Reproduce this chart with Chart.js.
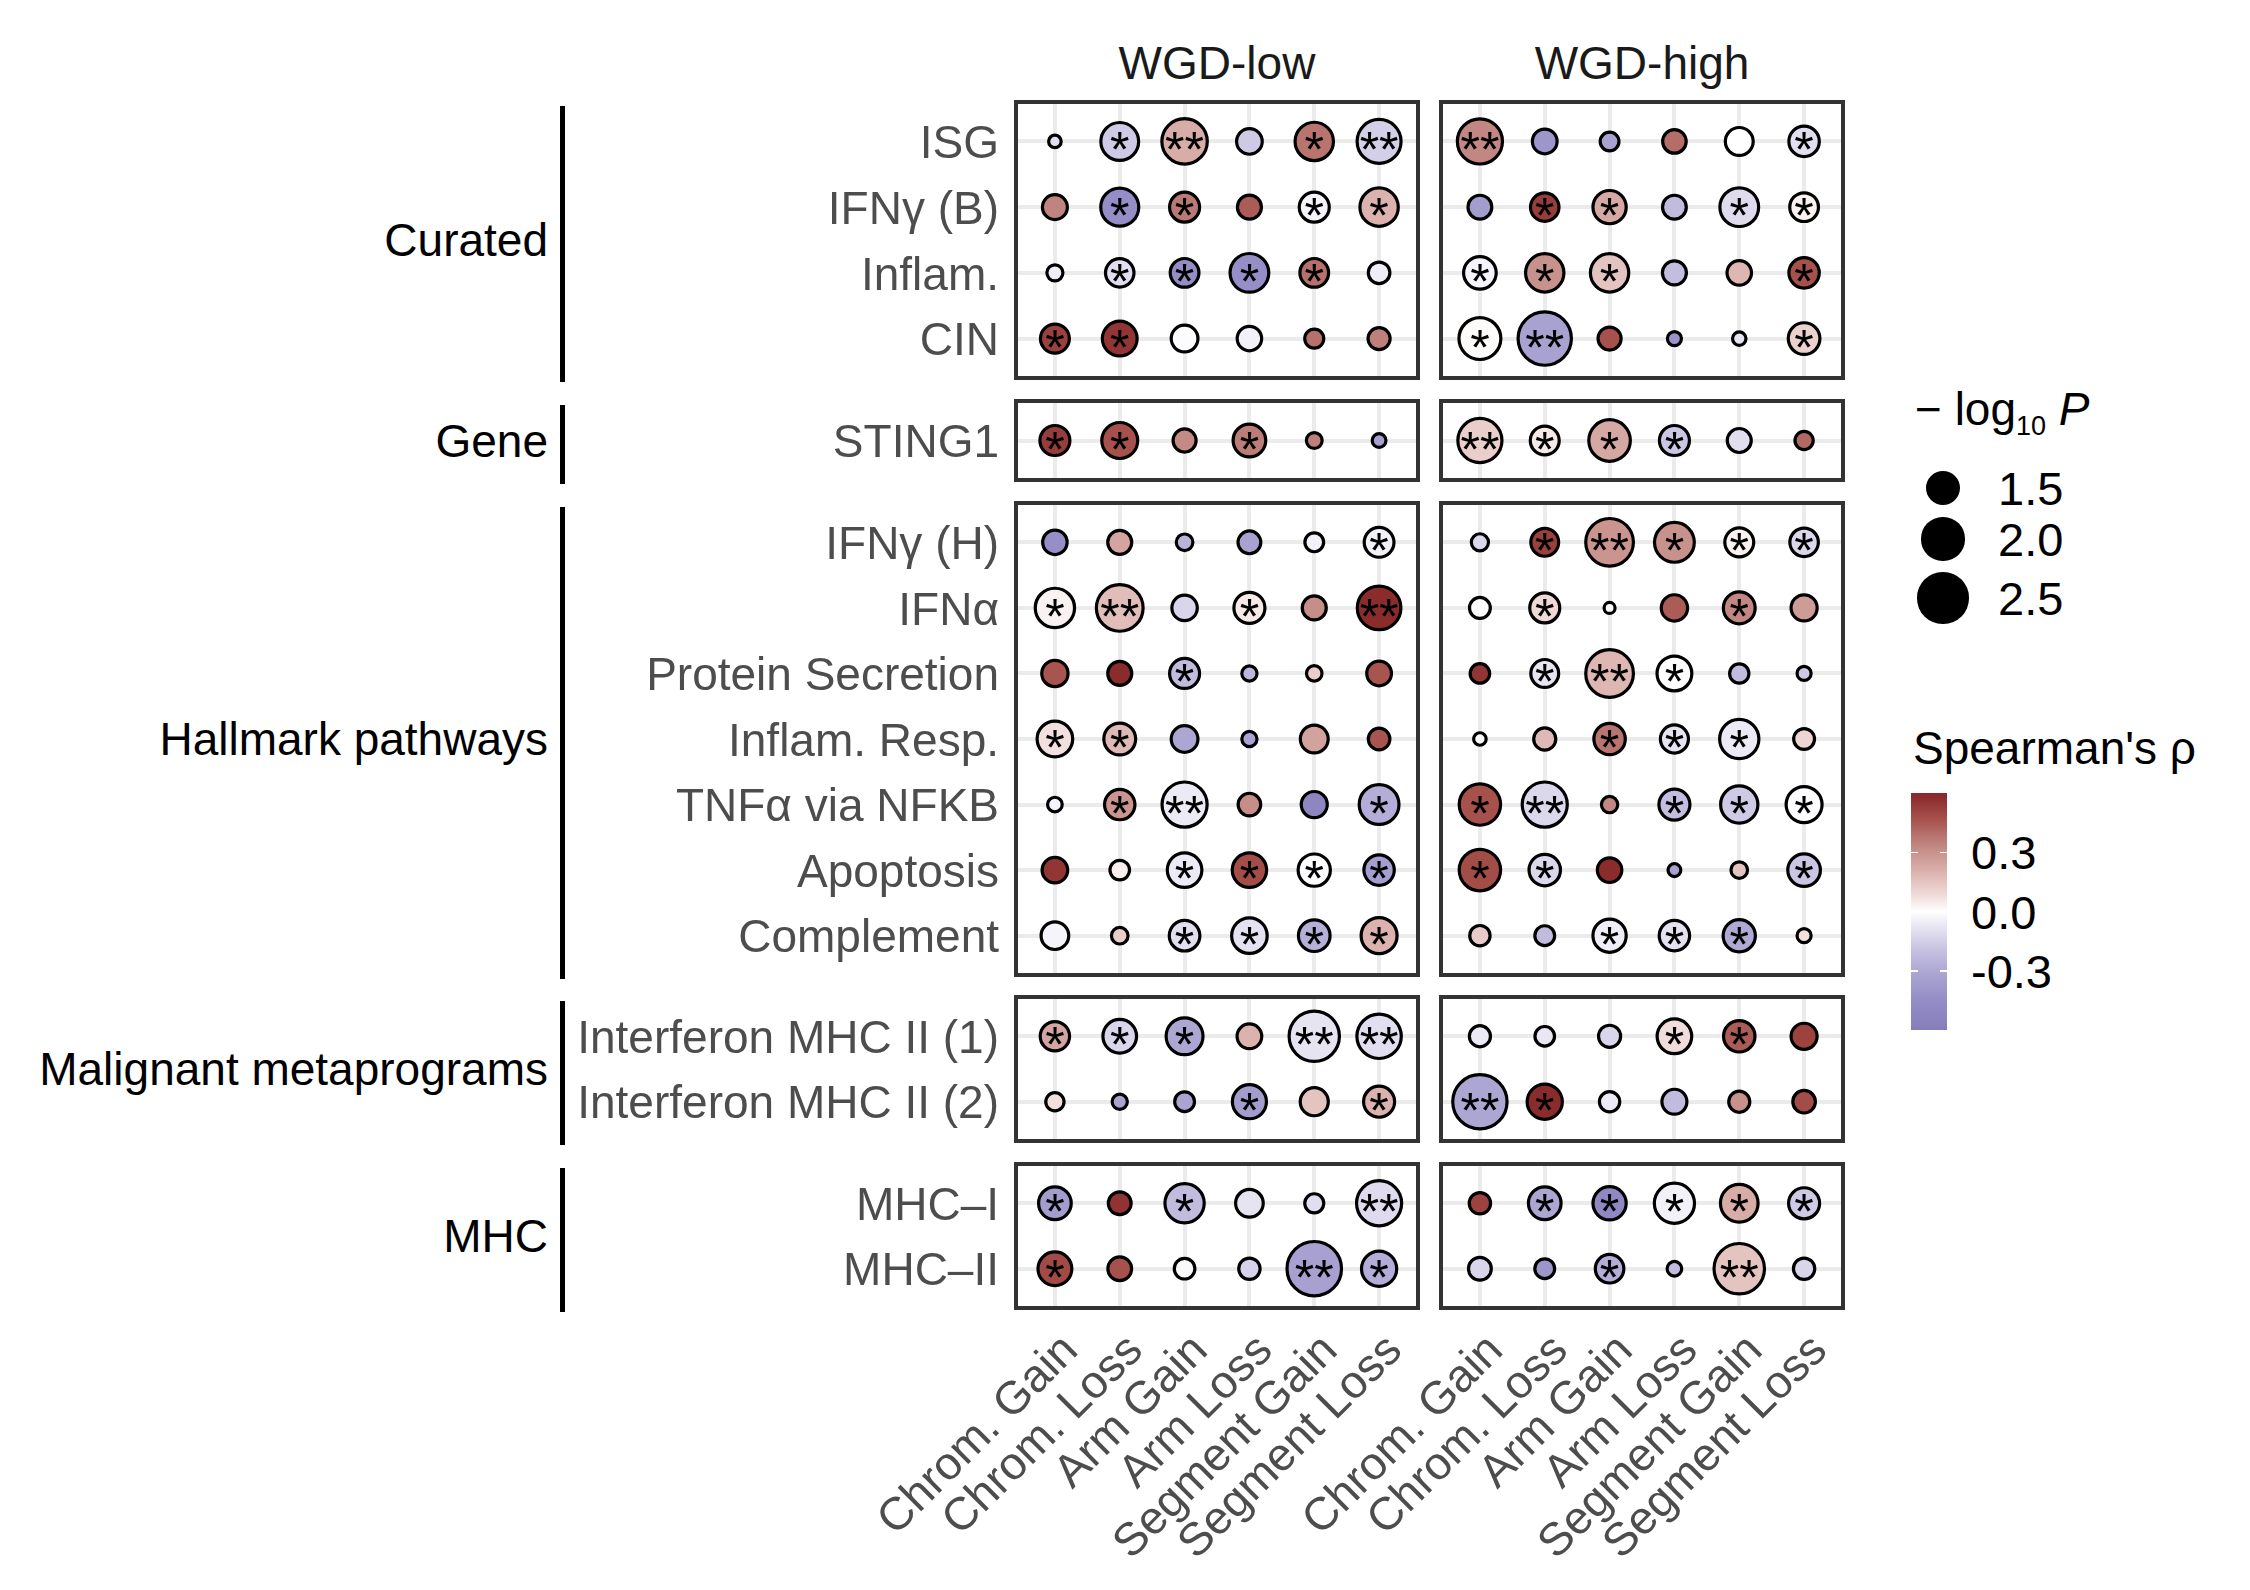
<!DOCTYPE html>
<html>
<head>
<meta charset="utf-8">
<title>CNA vs immune signatures, WGD-low / WGD-high</title>
<script src="https://cdn.jsdelivr.net/npm/chart.js@4.4.1/dist/chart.umd.min.js"></script>
<style>
  html, body { margin: 0; padding: 0; background: #fff; }
  #page { position: relative; width: 2250px; height: 1590px; overflow: hidden;
          font-family: "Liberation Sans", Arial, sans-serif; }
  #page canvas { position: absolute; }
  .txt { position: absolute; white-space: nowrap; font-size: 46px; line-height: 46px; }
</style>
</head>
<body>
<div id="page"></div>
<script>
// event types on the x axis
const columns = ["Chrom. Gain", "Chrom. Loss", "Arm Gain", "Arm Loss", "Segment Gain", "Segment Loss"];

// signatures, top to bottom, and the facet groups they belong to
const rowLabels = [
  "ISG", "IFNγ (B)", "Inflam.", "CIN",
  "STING1",
  "IFNγ (H)", "IFNα", "Protein Secretion", "Inflam. Resp.", "TNFα via NFKB", "Apoptosis", "Complement",
  "Interferon MHC II (1)", "Interferon MHC II (2)",
  "MHC–I", "MHC–II"
];
const groupNames = ["Curated", "Gene", "Hallmark pathways", "Malignant metaprograms", "MHC"];
const groupSizes = [4, 1, 7, 2, 2];
const wgdLevels = ["WGD-low", "WGD-high"];

// Spearman's rho (fill), one row per signature
const rhoLow = [
  [-0.10, -0.17, 0.22, -0.17, 0.38, -0.15],
  [0.34, -0.45, 0.37, 0.44, -0.03, 0.20],
  [-0.05, -0.10, -0.45, -0.44, 0.39, -0.05],
  [0.52, 0.55, -0.01, -0.04, 0.39, 0.35],
  [0.53, 0.47, 0.32, 0.36, 0.35, -0.34],
  [-0.44, 0.24, -0.25, -0.33, -0.04, -0.04],
  [0.03, 0.17, -0.13, 0.05, 0.31, 0.58],
  [0.46, 0.58, -0.22, -0.24, 0.12, 0.46],
  [0.07, 0.18, -0.31, -0.32, 0.25, 0.46],
  [-0.03, 0.29, -0.06, 0.31, -0.52, -0.28],
  [0.55, 0.04, -0.06, 0.48, -0.01, -0.35],
  [-0.03, 0.12, -0.10, -0.09, -0.27, 0.20],
  [0.24, -0.13, -0.31, 0.20, -0.08, -0.10],
  [0.07, -0.32, -0.32, -0.36, 0.15, 0.20],
  [-0.36, 0.56, -0.22, -0.08, -0.10, -0.11],
  [0.49, 0.47, -0.02, -0.14, -0.34, -0.28]
];
const rhoHigh = [
  [0.33, -0.40, -0.33, 0.40, 0.00, -0.10],
  [-0.36, 0.53, 0.23, -0.22, -0.11, 0.03],
  [-0.03, 0.30, 0.15, -0.21, 0.19, 0.47],
  [0.01, -0.33, 0.47, -0.41, -0.08, 0.11],
  [0.12, 0.05, 0.23, -0.18, -0.10, 0.41],
  [-0.12, 0.52, 0.29, 0.30, 0.03, -0.12],
  [0.00, 0.09, 0.01, 0.44, 0.33, 0.27],
  [0.55, -0.08, 0.19, 0.00, -0.22, -0.17],
  [-0.01, 0.18, 0.38, -0.08, -0.06, 0.10],
  [0.47, -0.12, 0.33, -0.21, -0.17, -0.01],
  [0.48, -0.12, 0.58, -0.34, 0.15, -0.18],
  [0.13, -0.22, -0.05, -0.09, -0.30, 0.07],
  [-0.06, -0.07, -0.13, 0.08, 0.44, 0.51],
  [-0.31, 0.58, -0.06, -0.22, 0.30, 0.48],
  [0.51, -0.31, -0.50, -0.04, 0.22, -0.17],
  [-0.13, -0.40, -0.28, -0.22, 0.15, -0.13]
];

// -log10 P (point size)
const logpLow = [
  [0.60, 1.70, 2.14, 1.10, 1.73, 2.05],
  [1.07, 1.71, 1.30, 1.03, 1.30, 1.73],
  [0.72, 1.23, 1.24, 1.75, 1.24, 0.93],
  [1.25, 1.54, 1.15, 1.05, 0.83, 0.95],
  [1.30, 1.60, 0.99, 1.43, 0.71, 0.64],
  [1.05, 1.03, 0.74, 0.98, 0.82, 1.29],
  [1.78, 2.22, 1.09, 1.35, 1.03, 2.03],
  [1.13, 1.03, 1.30, 0.69, 0.70, 1.06],
  [1.58, 1.39, 1.15, 0.69, 1.20, 0.93],
  [0.67, 1.32, 2.12, 0.97, 1.12, 1.81],
  [1.10, 0.85, 1.53, 1.52, 1.41, 1.32],
  [1.19, 0.74, 1.33, 1.58, 1.38, 1.60],
  [1.27, 1.48, 1.65, 1.06, 2.45, 2.08],
  [0.80, 0.69, 0.86, 1.50, 1.21, 1.35],
  [1.43, 0.98, 1.78, 1.19, 0.83, 2.12],
  [1.49, 1.02, 0.89, 0.92, 2.73, 1.56]
];
const logpHigh = [
  [2.12, 1.06, 0.82, 1.01, 1.20, 1.32],
  [1.02, 1.23, 1.46, 1.02, 1.75, 1.24],
  [1.43, 1.73, 1.73, 1.03, 1.05, 1.32],
  [1.93, 2.65, 0.99, 0.65, 0.63, 1.38],
  [2.06, 1.25, 1.91, 1.30, 1.03, 0.80],
  [0.76, 1.20, 2.28, 1.81, 1.25, 1.23],
  [0.90, 1.30, 0.55, 1.13, 1.39, 1.12],
  [0.85, 1.20, 2.28, 1.54, 0.84, 0.65],
  [0.60, 0.95, 1.37, 1.21, 1.78, 0.90],
  [1.90, 2.12, 0.73, 1.35, 1.67, 1.60],
  [1.90, 1.37, 1.05, 0.61, 0.74, 1.43],
  [0.88, 0.86, 1.46, 1.32, 1.41, 0.65],
  [0.91, 0.85, 0.95, 1.53, 1.37, 1.12],
  [2.72, 1.56, 0.88, 1.07, 0.91, 0.97],
  [0.92, 1.43, 1.46, 1.83, 1.69, 1.35],
  [0.98, 0.86, 1.23, 0.67, 2.46, 0.92]
];

// number of asterisks drawn on each point
const sigLow = [
  [0, 1, 2, 0, 1, 2],
  [0, 1, 1, 0, 1, 1],
  [0, 1, 1, 1, 1, 0],
  [1, 1, 0, 0, 0, 0],
  [1, 1, 0, 1, 0, 0],
  [0, 0, 0, 0, 0, 1],
  [1, 2, 0, 1, 0, 2],
  [0, 0, 1, 0, 0, 0],
  [1, 1, 0, 0, 0, 0],
  [0, 1, 2, 0, 0, 1],
  [0, 0, 1, 1, 1, 1],
  [0, 0, 1, 1, 1, 1],
  [1, 1, 1, 0, 2, 2],
  [0, 0, 0, 1, 0, 1],
  [1, 0, 1, 0, 0, 2],
  [1, 0, 0, 0, 2, 1]
];
const sigHigh = [
  [2, 0, 0, 0, 0, 1],
  [0, 1, 1, 0, 1, 1],
  [1, 1, 1, 0, 0, 1],
  [1, 2, 0, 0, 0, 1],
  [2, 1, 1, 1, 0, 0],
  [0, 1, 2, 1, 1, 1],
  [0, 1, 0, 0, 1, 0],
  [0, 1, 2, 1, 0, 0],
  [0, 0, 1, 1, 1, 0],
  [1, 2, 0, 1, 1, 1],
  [1, 1, 0, 0, 0, 1],
  [0, 0, 1, 1, 1, 0],
  [0, 0, 0, 1, 1, 0],
  [2, 1, 0, 0, 0, 0],
  [0, 1, 1, 1, 1, 1],
  [0, 0, 1, 0, 2, 0]
];

const sizeBreaks = [1.5, 2.0, 2.5];
const rhoBreaks = [0.3, 0.0, -0.3];

// fill scale: purple - white - dark red over [-0.6, 0.6]
const colourStops = [
  [-0.6, [133, 126, 186]],
  [-0.45, [148, 141, 198]],
  [-0.32, [170, 164, 210]],
  [-0.2, [197, 192, 224]],
  [-0.12, [220, 216, 236]],
  [-0.05, [239, 237, 246]],
  [0, [255, 255, 255]],
  [0.08, [240, 220, 218]],
  [0.2, [220, 178, 174]],
  [0.3, [200, 146, 140]],
  [0.38, [184, 117, 112]],
  [0.46, [168, 84, 79]],
  [0.58, [139, 44, 44]],
  [0.6, [136, 40, 40]]
];
const RHO_MIN = -0.6, RHO_MAX = 0.6;

function rhoColour(v) {
  v = Math.max(RHO_MIN, Math.min(RHO_MAX, v));
  for (let i = 1; i < colourStops.length; i++) {
    const [v1, c1] = colourStops[i];
    if (v <= v1) {
      const [v0, c0] = colourStops[i - 1];
      const t = (v - v0) / (v1 - v0);
      return "rgb(" + c0.map((c, k) => Math.round(c + (c1[k] - c) * t)).join(",") + ")";
    }
  }
  return "rgb(" + colourStops[colourStops.length - 1][1].join(",") + ")";
}

// point diameter grows with sqrt(-log10 P); returns a radius in px
function sizeScale(v) {
  return (47.8 * Math.sqrt(v) - 24.5) / 2;
}

// layout (px)
const FONT = '"Liberation Sans", Arial, sans-serif';
const UNIT = 65.6;          // one row / one column step
const PANEL_W = 402;
const PANEL_X = [1016, 1441];
const TOP0 = 102;
const GAP = 22.8;
const YW = 470;             // room left of each panel for row labels
const XH = 290;             // room under the bottom panels for column labels
const PAD = 6;

Chart.defaults.font.family = FONT;

const page = document.getElementById("page");

const panelTops = [];
const panelHeights = [];
{
  let y = TOP0;
  groupSizes.forEach((n) => {
    const h = Math.round((n + 0.2) * UNIT);
    panelTops.push(Math.round(y));
    panelHeights.push(h);
    y += h + GAP;
  });
}

function addText(html, x, y, opts) {
  const d = document.createElement("div");
  d.className = "txt";
  d.innerHTML = html;
  const o = opts || {};
  if (o.size) { d.style.fontSize = o.size + "px"; d.style.lineHeight = o.size + "px"; }
  d.style.color = o.color || "#000";
  d.style.top = y + "px";
  if (o.align === "right") {
    d.style.right = (2250 - x) + "px";
  } else if (o.align === "center") {
    d.style.left = x + "px";
    d.style.transform = "translateX(-50%)";
  } else {
    d.style.left = x + "px";
  }
  page.appendChild(d);
  return d;
}

function addBox(x, y, w, h, css) {
  const d = document.createElement("div");
  d.style.position = "absolute";
  d.style.left = x + "px";
  d.style.top = y + "px";
  d.style.width = w + "px";
  d.style.height = h + "px";
  Object.assign(d.style, css || {});
  page.appendChild(d);
  return d;
}

const panelBorder = {
  id: "panelBorder",
  afterDatasetsDraw(chart) {
    const a = chart.chartArea;
    const ctx = chart.ctx;
    ctx.save();
    ctx.strokeStyle = "#333333";
    ctx.lineWidth = 4;
    ctx.strokeRect(a.left, a.top, a.right - a.left, a.bottom - a.top);
    ctx.restore();
  }
};

const starLabels = {
  id: "starLabels",
  afterDatasetsDraw(chart) {
    const ctx = chart.ctx;
    const pts = chart.data.datasets[0].data;
    ctx.save();
    ctx.font = "50px " + FONT;
    ctx.fillStyle = "#000";
    ctx.textAlign = "center";
    ctx.textBaseline = "alphabetic";
    const m = ctx.measureText("*");
    const shift = (m.actualBoundingBoxAscent - m.actualBoundingBoxDescent) / 2;
    chart.getDatasetMeta(0).data.forEach((el, i) => {
      const s = pts[i].sig;
      if (s) ctx.fillText("*".repeat(s), el.x, el.y + shift);
    });
    ctx.restore();
  }
};

function makePanel(side, g) {
  const first = groupSizes.slice(0, g).reduce((a, b) => a + b, 0);
  const n = groupSizes[g];
  const labels = rowLabels.slice(first, first + n);
  const isBottom = g === groupSizes.length - 1;
  const isLeft = side === 0;
  const rho = isLeft ? rhoLow : rhoHigh;
  const logp = isLeft ? logpLow : logpHigh;
  const sig = isLeft ? sigLow : sigHigh;

  const points = [];
  labels.forEach((_, r) => {
    columns.forEach((_, c) => {
      points.push({
        x: c,
        y: r,
        r: sizeScale(logp[first + r][c]),
        rho: rho[first + r][c],
        sig: sig[first + r][c]
      });
    });
  });

  const w = YW + PANEL_W + PAD;
  const h = PAD + panelHeights[g] + (isBottom ? XH : PAD);
  const canvas = document.createElement("canvas");
  canvas.width = w;
  canvas.height = h;
  canvas.style.width = w + "px";
  canvas.style.height = h + "px";
  canvas.style.left = (PANEL_X[side] - YW) + "px";
  canvas.style.top = (panelTops[g] - PAD) + "px";
  page.appendChild(canvas);

  const gridOpts = { color: "#ebebeb", lineWidth: 4, drawTicks: false };

  new Chart(canvas, {
    type: "bubble",
    data: {
      datasets: [{
        data: points,
        backgroundColor: points.map((p) => rhoColour(p.rho)),
        borderColor: "#000000",
        borderWidth: 3.2,
        hoverRadius: 0,
        hoverBorderWidth: 3.2
      }]
    },
    options: {
      responsive: false,
      devicePixelRatio: 1,
      animation: false,
      events: [],
      layout: {
        autoPadding: false,
        padding: { left: 0, top: PAD, right: PAD, bottom: isBottom ? 0 : PAD }
      },
      plugins: { legend: { display: false }, tooltip: { enabled: false } },
      scales: {
        x: {
          type: "linear",
          position: "bottom",
          min: -0.6,
          max: columns.length - 0.4,
          afterBuildTicks: (axis) => { axis.ticks = columns.map((_, i) => ({ value: i })); },
          afterFit: (axis) => {
            axis.height = isBottom ? XH : 0;
            axis.paddingLeft = 0;
            axis.paddingRight = 0;
          },
          grid: gridOpts,
          border: { display: false },
          ticks: {
            display: isBottom,
            autoSkip: false,
            minRotation: 45,
            maxRotation: 45,
            padding: 16,
            labelOffset: 16,
            color: "#4d4d4d",
            font: { size: 46 },
            callback: (v) => columns[v]
          }
        },
        y: {
          type: "linear",
          reverse: true,
          min: -0.6,
          max: n - 0.4,
          afterBuildTicks: (axis) => { axis.ticks = labels.map((_, i) => ({ value: i })); },
          afterFit: (axis) => {
            axis.width = YW;
            axis.paddingTop = 0;
            axis.paddingBottom = 0;
          },
          grid: gridOpts,
          border: { display: false },
          ticks: {
            display: isLeft,
            autoSkip: false,
            padding: 17,
            labelOffset: 4,
            color: "#4d4d4d",
            font: { size: 46 },
            callback: (v) => labels[v]
          }
        }
      }
    },
    plugins: [panelBorder, starLabels]
  });
}

// facet strips on top
wgdLevels.forEach((name, s) => {
  addText(name, PANEL_X[s] + PANEL_W / 2, 40, { align: "center", color: "#1a1a1a" });
});

// group labels with a bar on their right
groupNames.forEach((name, g) => {
  const top = panelTops[g];
  const h = panelHeights[g];
  addText(name, 548, top + h / 2 - 23, { align: "right", color: "#000" });
  addBox(560, top + 4, 5, h, { background: "#000" });
});

for (let g = 0; g < groupSizes.length; g++) {
  makePanel(0, g);
  makePanel(1, g);
}

// size legend
addText('−&nbsp;log<span style="font-size:27px;position:relative;top:10px">10</span>&nbsp;<i>P</i>', 1915, 386, { color: "#000" });
const keyY = [488, 539, 598];
sizeBreaks.forEach((v, i) => {
  const d = 2 * sizeScale(v);
  addBox(1943 - d / 2, keyY[i] - d / 2, d, d, { background: "#000", borderRadius: "50%" });
  addText(v.toFixed(1), 1998, keyY[i] - 23, { size: 47, color: "#000" });
});

// colour bar legend
addText("Spearman's ρ", 1913, 725, { color: "#000" });
const BAR_X = 1911, BAR_Y = 793, BAR_W = 36, BAR_H = 237;
const grad = colourStops.map(([v, c]) =>
  "rgb(" + c.join(",") + ") " + ((v - RHO_MIN) / (RHO_MAX - RHO_MIN) * 100).toFixed(2) + "%").join(", ");
addBox(BAR_X, BAR_Y, BAR_W, BAR_H, { background: "linear-gradient(to top, " + grad + ")" });
rhoBreaks.forEach((v) => {
  const y = BAR_Y + (RHO_MAX - v) / (RHO_MAX - RHO_MIN) * BAR_H;
  addBox(BAR_X, y - 0.75, 7, 1.5, { background: "#fff" });
  addBox(BAR_X + BAR_W - 7, y - 0.75, 7, 1.5, { background: "#fff" });
  addText(v.toFixed(1), 1971, y - 23, { size: 47, color: "#000" });
});
</script>
</body>
</html>
